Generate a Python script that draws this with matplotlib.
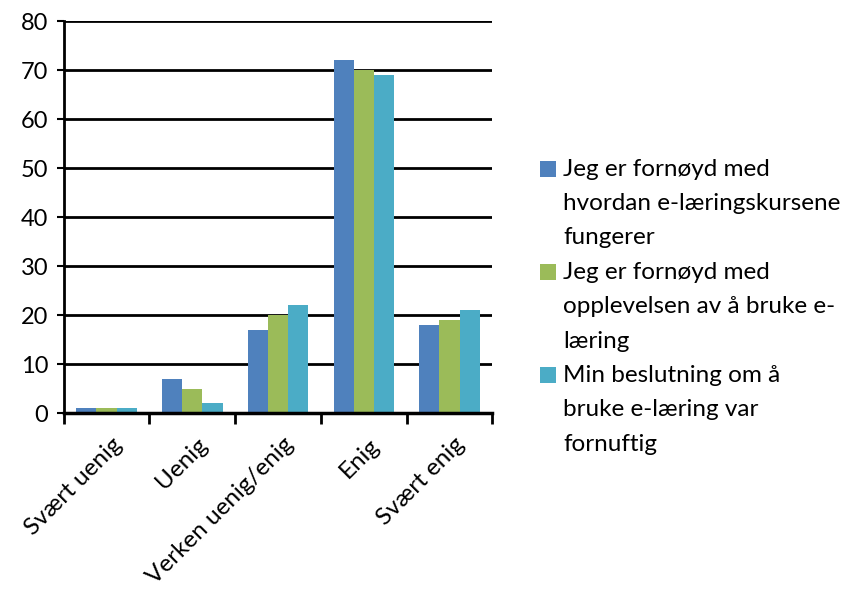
import matplotlib
matplotlib.use("Agg")
import matplotlib.pyplot as plt
from matplotlib.patches import Rectangle
import numpy as np

categories = ["Svært uenig", "Uenig", "Verken uenig/enig", "Enig", "Svært enig"]
series_labels = [
    ["Jeg er fornøyd med", "hvordan e-læringskursene", "fungerer"],
    ["Jeg er fornøyd med", "opplevelsen av å bruke e-", "læring"],
    ["Min beslutning om å", "bruke e-læring var", "fornuftig"],
]
fornoyd_kurs = [1, 7, 17, 72, 18]
fornoyd_opplevelse = [1, 5, 20, 70, 19]
beslutning = [1, 2, 22, 69, 21]
colors = ["#4F81BD", "#9BBB59", "#4BACC6"]

plt.rcParams["font.family"] = ["Lato", "DejaVu Sans"]

W, H = 849, 592
fig = plt.figure(figsize=(W / 100, H / 100), dpi=100)
ax = fig.add_axes([0.075, 0.302, 0.505, 0.6625])

x = np.arange(len(categories))
width = 0.235
for i, vals in enumerate([fornoyd_kurs, fornoyd_opplevelse, beslutning]):
    ax.bar(x + (i - 1) * width, vals, width=width, color=colors[i], zorder=3)

ax.set_xlim(-0.5, len(categories) - 0.5)
ax.set_ylim(0, 80)
ax.set_yticks(range(0, 81, 10))
ax.tick_params(axis="y", labelsize=17, length=5, width=1.5, direction="out", pad=6)
ax.yaxis.grid(True, color="black", linewidth=2, zorder=0)

ax.set_xticks(np.arange(-0.5, len(categories), 1.0), minor=False)
ax.set_xticklabels([])
ax.tick_params(axis="x", length=8, width=2, direction="out")
ax.set_xticks(x + 0.05, minor=True)
ax.set_xticklabels(categories, minor=True, rotation=45, ha="right", rotation_mode="anchor", fontsize=17.5)
ax.tick_params(axis="x", which="minor", length=0, pad=15)

for s in ["top", "right"]:
    ax.spines[s].set_visible(False)
ax.spines["left"].set_linewidth(2)
ax.spines["bottom"].set_linewidth(2.5)
ax.spines["bottom"].set_zorder(4)

# legend drawn by hand so the swatch sits beside the first line of each entry
line_step = 34.4
y0 = 169
for i, lines in enumerate(series_labels):
    for j, line in enumerate(lines):
        yp = y0 + line_step * (3 * i + j)
        fig.text(563 / W, 1 - yp / H, line, fontsize=17.5, va="center", ha="left")
    yc = y0 + line_step * 3 * i
    fig.patches.append(Rectangle((540 / W, 1 - (yc + 8) / H), 16 / W, 16 / H,
                                 transform=fig.transFigure, facecolor=colors[i],
                                 edgecolor="none"))

plt.savefig("out.png")
plt.close()
